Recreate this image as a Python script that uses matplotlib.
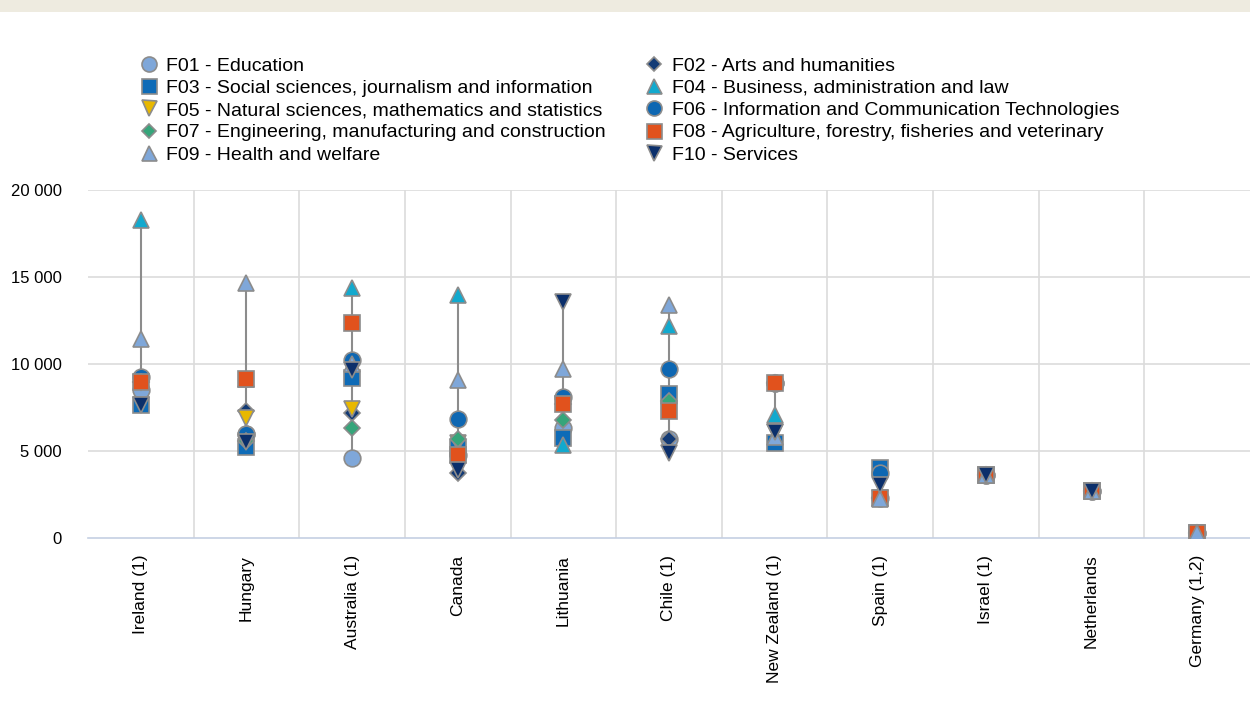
import numpy as np
import matplotlib
matplotlib.use("Agg")
import matplotlib.pyplot as plt
from matplotlib.patches import Rectangle
from matplotlib.ticker import FuncFormatter

plt.rcParams['font.family'] = ['Liberation Sans', 'DejaVu Sans']

countries = ["Ireland (1)", "Hungary", "Australia (1)", "Canada", "Lithuania",
             "Chile (1)", "New Zealand (1)", "Spain (1)", "Israel (1)",
             "Netherlands", "Germany (1,2)"]

nan = np.nan
F01 = [8500, 6000, 4600, 4750, 6300, 5700, 8900, 2300, 3600, 2700, 300]
F02 = [8970, 7300, 7200, 3750, 7700, 5700, 8900, 2300, 3600, 2700, 300]
F03 = [7650, 5250, 9200, 5200, 5750, 8250, 5450, 4050, 3600, 2700, 300]
F04 = [18300, 9150, 14350, 13950, 5350, 12200, 7050, 2300, 3600, 2700, 300]
F05 = [8970, 6900, 7400, 5450, 7700, 7300, 6100, 2300, 3600, 2700, 300]
F06 = [9250, 6000, 10250, 6850, 8100, 9700, 8900, 3750, 3600, 2700, 300]
F07 = [8970, 5600, 6300, 5700, 6800, 7900, 8900, 2300, 3600, 2700, 300]
F08 = [8970, 9150, 12350, 4750, 7700, 7300, 8900, 2300, 3600, 2700, 300]
F09 = [11450, 14650, 10000, 9100, 9700, 13400, 5800, 2250, 3600, 2700, 300]
F10 = [7650, 5500, 9650, 3900, 13550, 4900, 6100, 3050, 3600, 2700, nan]

series = [
    ("F01 - Education", F01, 'o', '#7FA7D9'),
    ("F02 - Arts and humanities", F02, 'D', '#123A75'),
    ("F03 - Social sciences, journalism and information", F03, 's', '#0E6BB7'),
    ("F04 - Business, administration and law", F04, '^', '#12A9CE'),
    ("F05 - Natural sciences, mathematics and statistics", F05, 'v', '#E8B800'),
    ("F06 - Information and Communication Technologies", F06, 'o', '#0E67B2'),
    ("F07 - Engineering, manufacturing and construction", F07, 'D', '#36A57A'),
    ("F08 - Agriculture, forestry, fisheries and veterinary", F08, 's', '#E1521D'),
    ("F09 - Health and welfare", F09, '^', '#7FA7D9'),
    ("F10 - Services", F10, 'v', '#0B2F6B'),
]

W, H = 1250, 720
fig = plt.figure(figsize=(W / 100, H / 100), dpi=100)
fig.patches.append(Rectangle((0, 1 - 12 / H), 1, 12 / H, transform=fig.transFigure,
                             facecolor='#EEEBE0', edgecolor='none'))

ax = fig.add_axes([88 / W, (H - 538) / H, (W - 88) / W, (538 - 190) / H])
x = np.arange(len(countries))

allv = np.array([s[1] for s in series], dtype=float)
mins = np.nanmin(allv, axis=0)
maxs = np.nanmax(allv, axis=0)
ax.vlines(x, mins, maxs, color='#8C8C8C', lw=1.5, zorder=2)

sizes = {'o': 12, 's': 12, 'D': 8.2, '^': 12, 'v': 12}
handles = []
for i, (lab, vals, m, c) in enumerate(series):
    ln, = ax.plot(x, vals, linestyle='none', marker=m, markersize=sizes[m],
                  markerfacecolor=c, markeredgecolor='#8C8C8C', markeredgewidth=1.2,
                  zorder=3 + i, label=lab)
    handles.append(ln)

ax.set_xlim(-0.5, len(countries) - 0.5)
ax.set_ylim(0, 20000)
ax.set_yticks([0, 5000, 10000, 15000, 20000])
ax.yaxis.set_major_formatter(FuncFormatter(lambda v, p: f"{int(v):,}".replace(",", " ")))
ax.set_xticks(x)
ax.set_xticklabels(countries, rotation=90, fontsize=12.5)
ax.tick_params(axis='y', labelsize=12, length=0, pad=19)
ax.tick_params(axis='x', length=0, pad=12)

for yv in [5000, 10000, 15000, 20000]:
    ax.axhline(yv, color='#DCDCDC', lw=1.2, zorder=0)
for xv in np.arange(0.5, len(countries) - 0.5, 1):
    ax.axvline(xv, color='#DCDCDC', lw=1.2, zorder=0)

for s in ['top', 'right', 'left']:
    ax.spines[s].set_visible(False)
ax.spines['bottom'].set_color('#C5D0E3')
ax.spines['bottom'].set_linewidth(1.2)

order = [0, 2, 4, 6, 8, 1, 3, 5, 7, 9]
fig.legend([handles[i] for i in order], [series[i][0] for i in order],
           ncol=2, loc='upper left', bbox_to_anchor=(140 / W, 1 - 57 / H),
           frameon=False, fontsize=14, handlelength=0.9, handletextpad=0.45,
           labelspacing=0.24, columnspacing=2.05, borderaxespad=0, borderpad=0,
           markerscale=0.9)

fig.savefig("out.png", dpi=100)
